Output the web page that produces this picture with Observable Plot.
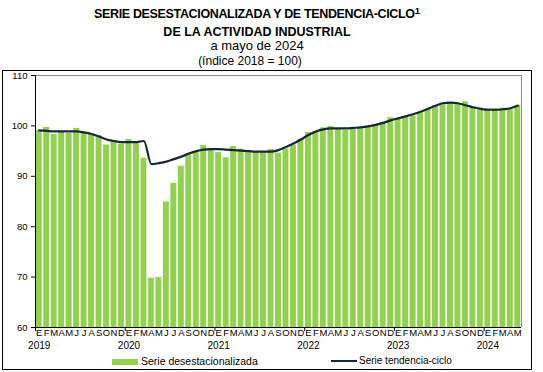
<!DOCTYPE html>
<html><head><meta charset="utf-8">
<script src="https://cdn.jsdelivr.net/npm/d3@7"></script>
<script src="https://cdn.jsdelivr.net/npm/@observablehq/plot@0.6"></script>
<style>
body{margin:0;background:#fff;font-family:"Liberation Sans",Arial,sans-serif;}
#wrap{position:relative;width:543px;height:372px;overflow:hidden;background:#fff;}
#wrap svg{position:absolute;left:0;top:0;}
.t{position:absolute;left:0;width:514px;text-align:center;line-height:1;white-space:nowrap;color:#000;}
.box{position:absolute;left:2px;top:70px;width:530px;height:300px;box-sizing:border-box;border:1px solid #000;}
.lg{position:absolute;line-height:1;white-space:nowrap;color:#000;}
</style></head><body>
<div id="wrap"></div>
<script>
const monthLetters = ["E","F","M","A","M","J","J","A","S","O","N","D"];
const years = ["2019","2020","2021","2022","2023","2024"];
const desestacionalizada = [
  99.1, 99.7, 98.3, 98.7, 98.5, 99.5, 98.6, 98.4, 98.1, 96.2, 97.0, 96.4,
  97.3, 96.6, 93.6, 69.8, 69.9, 84.9, 88.6, 92.0, 94.1, 94.9, 96.1, 95.5,
  94.7, 93.7, 95.9, 95.4, 94.9, 94.8, 94.7, 95.3, 94.6, 95.4, 96.2, 97.4,
  98.7, 98.9, 99.6, 99.9, 99.3, 99.1, 99.3, 99.6, 99.7, 100.1, 100.7, 101.6,
  101.3, 101.7, 102.0, 102.6, 103.3, 104.0, 104.2, 104.4, 104.4, 104.8, 103.8, 103.5,
  103.4, 103.4, 103.5, 103.4, 104.1
];
const tendenciaCiclo = [
  99.1, 99.0, 98.9, 98.9, 98.9, 98.9, 98.7, 98.4, 97.9, 97.3, 97.0, 96.8,
  96.8, 96.8, 97.0, 92.4, 92.6, 92.9, 93.4, 93.9, 94.5, 95.0, 95.3, 95.4,
  95.4, 95.3, 95.2, 95.1, 95.0, 94.9, 94.9, 94.9, 95.2, 95.8, 96.5, 97.3,
  98.2, 98.9, 99.3, 99.5, 99.5, 99.5, 99.6, 99.7, 99.9, 100.2, 100.6, 101.1,
  101.5, 101.9, 102.3, 102.8, 103.4, 104.0, 104.5, 104.6, 104.5, 104.1, 103.7, 103.4,
  103.2, 103.2, 103.3, 103.5, 104.0
];
const yTicks = [60, 70, 80, 90, 100, 110];

const data = desestacionalizada.map((v, i) => ({i, v, t: tendenciaCiclo[i]}));
const n = data.length;
const GREEN = "#92D050";
const NAVY = "#18263a";

const chart = Plot.plot({
  width: 543, height: 372,
  marginLeft: 35, marginRight: 22, marginTop: 75, marginBottom: 45,
  x: {type: "linear", domain: [-0.5, n - 0.5]},
  y: {domain: [60, 110]},
  style: {fontFamily: "'Liberation Sans', Arial, sans-serif", background: "transparent", color: "#000"},
  marks: [
    Plot.rectY(data, {x1: d => d.i - 0.4, x2: d => d.i + 0.4, y1: 60, y2: "v", fill: GREEN}),
    Plot.ruleY([110], {stroke: "#8c8c8c"}),
    Plot.ruleX([n - 0.5], {y1: 60, y2: 110, stroke: "#8c8c8c"}),
    Plot.ruleY([60], {stroke: "#000"}),
    Plot.ruleX([-0.5], {y1: 60, y2: 110, stroke: "#000"}),
    Plot.ruleX(years.map((d, k) => k * 12 - 0.5), {y1: 59.2, y2: 60, stroke: "#000"}),
    Plot.lineY(data, {x: "i", y: "t", stroke: NAVY, strokeWidth: 2.2, curve: "monotone-x"}),
    Plot.axisY({ticks: yTicks, tickSize: 4, tickPadding: 4, fontSize: 9.5, label: null, stroke: "#000"}),
    Plot.axisX({ticks: data.map(d => d.i), tickFormat: i => monthLetters[i % 12], tickSize: 0, tickPadding: 2, fontSize: 9.5, label: null}),
    Plot.text(years, {x: (d, k) => k * 12, y: 60, text: d => d, dy: 18, fontSize: 10})
  ]
});

const wrap = document.getElementById("wrap");
wrap.appendChild(chart);

function addDiv(cls, html, style) {
  const el = document.createElement("div");
  el.className = cls;
  el.innerHTML = html;
  Object.assign(el.style, style);
  wrap.appendChild(el);
  return el;
}
addDiv("box", "", {});
addDiv("t", "SERIE DESESTACIONALIZADA Y DE TENDENCIA-CICLO<span style='font-size:9.5px;position:relative;top:-4px;letter-spacing:0'>1</span>",
  {top: "7.5px", fontSize: "12.5px", fontWeight: "bold", letterSpacing: "-0.35px"});
addDiv("t", "DE LA ACTIVIDAD INDUSTRIAL", {top: "25.5px", fontSize: "12.5px", fontWeight: "bold"});
addDiv("t", "a mayo de 2024", {top: "39px", fontSize: "13px"});
addDiv("t", "(índice 2018 = 100)", {top: "55px", fontSize: "12px", width: "500px"});
// legend
addDiv("lg", "", {left: "112px", top: "359px", width: "26px", height: "6px", background: GREEN});
addDiv("lg", "Serie desestacionalizada", {left: "141px", top: "356px", fontSize: "10.5px"});
addDiv("lg", "", {left: "331px", top: "360px", width: "26px", height: "2px", background: NAVY});
addDiv("lg", "Serie tendencia-ciclo", {left: "359px", top: "356px", fontSize: "10px"});
</script>
</body></html>
